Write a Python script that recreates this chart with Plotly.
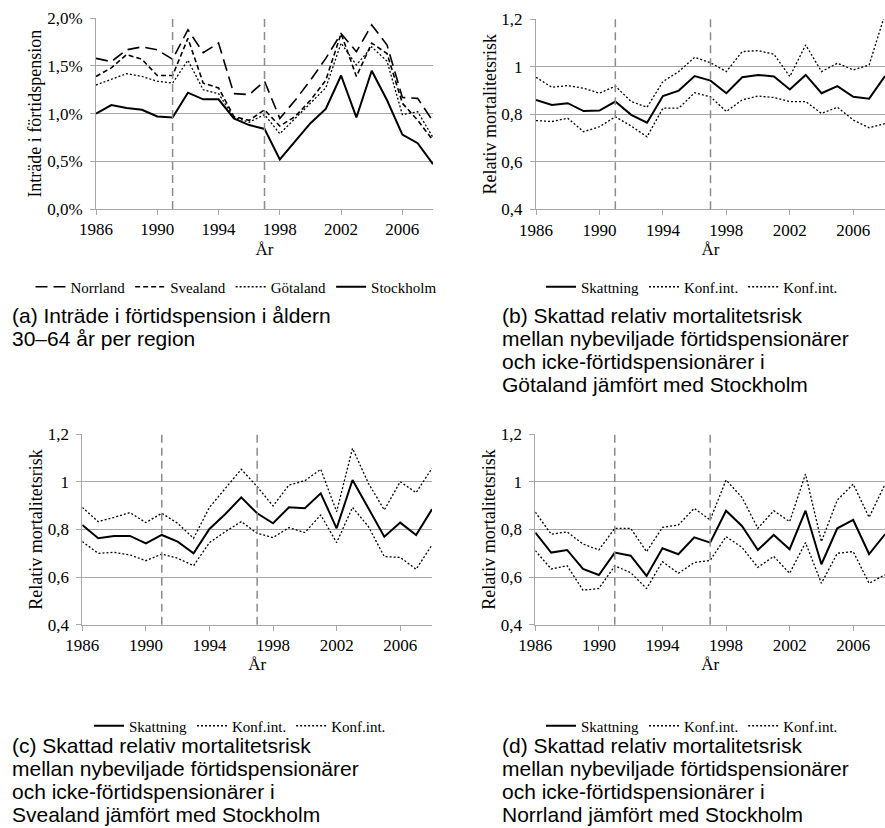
import plotly.graph_objects as go

years = list(range(1986, 2009))
reform_years = [1991, 1997]
x_tickvals = [1986, 1990, 1994, 1998, 2002, 2006]
a_tickvals = [0.0, 0.5, 1.0, 1.5, 2.0]
a_ticktext = ["0,0%", "0,5%", "1,0%", "1,5%", "2,0%"]
rr_tickvals = [0.4, 0.6, 0.8, 1.0, 1.2]

# Panel (a): entry into disability pension, % of population 30-64
norrland = [1.58, 1.545, 1.67, 1.70, 1.67, 1.57, 1.88, 1.64, 1.74, 1.21, 1.20, 1.34,
            0.95, 1.14, 1.35, 1.58, 1.84, 1.65, 1.93, 1.72, 1.17, 1.16, 0.92]
svealand = [1.39, 1.48, 1.62, 1.57, 1.40, 1.40, 1.79, 1.32, 1.27, 0.97, 0.93, 1.04,
            0.87, 0.97, 1.14, 1.35, 1.84, 1.39, 1.74, 1.63, 1.11, 0.93, 0.72]
gotaland = [1.30, 1.36, 1.42, 1.39, 1.34, 1.32, 1.56, 1.25, 1.21, 0.96, 0.91, 0.99,
            0.79, 0.95, 1.11, 1.27, 1.74, 1.51, 1.70, 1.55, 0.99, 1.02, 0.75]
stockholm = [1.00, 1.09, 1.06, 1.04, 0.97, 0.96, 1.22, 1.15, 1.15, 0.95, 0.88, 0.84,
             0.52, 0.71, 0.90, 1.05, 1.40, 0.96, 1.45, 1.14, 0.78, 0.69, 0.47]

# Panel (b): Götaland vs Stockholm
b_est = [0.860, 0.839, 0.846, 0.813, 0.815, 0.853, 0.797, 0.764, 0.876, 0.899, 0.960, 0.941,
         0.888, 0.955, 0.965, 0.958, 0.904, 0.965, 0.888, 0.918, 0.873, 0.865, 0.960]
b_hi = [0.955, 0.913, 0.920, 0.909, 0.888, 0.918, 0.853, 0.829, 0.937, 0.979, 1.039, 1.016,
        0.979, 1.063, 1.067, 1.052, 0.958, 1.091, 0.979, 1.014, 0.986, 1.007, 1.22]
b_lo = [0.773, 0.769, 0.783, 0.726, 0.747, 0.789, 0.750, 0.705, 0.825, 0.825, 0.890, 0.873,
        0.811, 0.860, 0.876, 0.870, 0.853, 0.853, 0.803, 0.829, 0.775, 0.743, 0.760]

# Panel (c): Svealand vs Stockholm
c_est = [0.819, 0.763, 0.773, 0.773, 0.742, 0.777, 0.749, 0.700, 0.802, 0.865, 0.935, 0.868,
         0.826, 0.893, 0.889, 0.952, 0.805, 1.008, 0.889, 0.770, 0.829, 0.777, 0.885]
c_hi = [0.893, 0.833, 0.851, 0.871, 0.829, 0.868, 0.826, 0.763, 0.893, 0.973, 1.053, 0.980,
        0.899, 0.987, 1.005, 1.053, 0.875, 1.141, 0.994, 0.882, 1.001, 0.955, 1.057]
c_lo = [0.749, 0.700, 0.704, 0.693, 0.669, 0.697, 0.679, 0.648, 0.745, 0.791, 0.833, 0.784,
        0.766, 0.808, 0.787, 0.861, 0.745, 0.893, 0.812, 0.686, 0.683, 0.633, 0.735]

# Panel (d): Norrland vs Stockholm
d_est = [0.787, 0.703, 0.714, 0.634, 0.609, 0.703, 0.690, 0.605, 0.721, 0.696, 0.767, 0.745,
         0.879, 0.815, 0.714, 0.777, 0.717, 0.879, 0.654, 0.805, 0.840, 0.697, 0.780]
d_hi = [0.873, 0.780, 0.790, 0.739, 0.714, 0.805, 0.805, 0.707, 0.809, 0.819, 0.889, 0.840,
        1.008, 0.935, 0.805, 0.879, 0.833, 1.033, 0.749, 0.924, 0.991, 0.851, 0.990]
d_lo = [0.711, 0.634, 0.648, 0.545, 0.552, 0.647, 0.619, 0.552, 0.665, 0.616, 0.661, 0.670,
        0.770, 0.725, 0.641, 0.687, 0.616, 0.745, 0.574, 0.700, 0.707, 0.574, 0.610]

captions = [
    ["(a) Inträde i förtidspension i åldern", "30–64 år per region"],
    ["(b) Skattad relativ mortalitetsrisk", "mellan nybeviljade förtidspensionärer",
     "och icke-förtidspensionärer i", "Götaland jämfört med Stockholm"],
    ["(c) Skattad relativ mortalitetsrisk", "mellan nybeviljade förtidspensionärer",
     "och icke-förtidspensionärer i", "Svealand jämfört med Stockholm"],
    ["(d) Skattad relativ mortalitetsrisk", "mellan nybeviljade förtidspensionärer",
     "och icke-förtidspensionärer i", "Norrland jämfört med Stockholm"],
]

W, H = 885, 828
SERIF = "Liberation Serif, Times New Roman, serif"
SANS = "Liberation Sans, Arial, sans-serif"
GRID = "#a6a6a6"

def px_x(a, b):
    return [a / W, min(b / W, 1.0)]

def px_y(top, bottom):
    return [1 - bottom / H, 1 - top / H]

panels = [
    ("x", "y", px_x(96, 433), px_y(18.3, 209)),
    ("x2", "y2", px_x(536, 885), px_y(19, 209.3)),
    ("x3", "y3", px_x(82.3, 432), px_y(434.3, 624.7)),
    ("x4", "y4", px_x(535.3, 885), px_y(434.3, 624.7)),
]

fig = go.Figure()

def add_line(i, y, name, dash, width, legend):
    xa, ya = panels[i][0], panels[i][1]
    fig.add_trace(go.Scatter(
        x=years, y=y, name=name, mode="lines",
        line=dict(color="black", width=width, dash=dash),
        xaxis=xa, yaxis=ya, legend=legend, hoverinfo="skip",
    ))

add_line(0, norrland, "Norrland", "12px,6px", 1.6, "legend")
add_line(0, svealand, "Svealand", "5px,3px", 1.6, "legend")
add_line(0, gotaland, "Götaland", "2px,2px", 1.3, "legend")
add_line(0, stockholm, "Stockholm", "solid", 2, "legend")

for i, (est, hi, lo, lg) in enumerate([(b_est, b_hi, b_lo, "legend2"),
                                       (c_est, c_hi, c_lo, "legend3"),
                                       (d_est, d_hi, d_lo, "legend4")], start=1):
    add_line(i, est, "Skattning", "solid", 2, lg)
    add_line(i, hi, "Konf.int.", "2px,2px", 1.3, lg)
    add_line(i, lo, "Konf.int.", "2px,2px", 1.3, lg)

layout = dict(
    width=W, height=H,
    margin=dict(l=0, r=0, t=0, b=0, autoexpand=False),
    paper_bgcolor="white", plot_bgcolor="white",
    separators=", ",
    font=dict(family=SERIF, size=17, color="black"),
    showlegend=True,
)

axis_common_x = dict(
    range=[1986, 2008], tickvals=x_tickvals, showgrid=False, zeroline=False,
    showline=True, linecolor=GRID, linewidth=1, ticks="outside", ticklen=5,
    tickcolor=GRID, tickfont=dict(family=SERIF, size=17), automargin=False,
    title=dict(text="År", font=dict(family=SERIF, size=17), standoff=4),
)

for i, (xa, ya, xd, yd) in enumerate(panels):
    xk = "xaxis" if xa == "x" else "xaxis" + xa[1:]
    yk = "yaxis" if ya == "y" else "yaxis" + ya[1:]
    layout[xk] = dict(axis_common_x, domain=xd, anchor=ya)
    if i == 0:
        ycfg = dict(range=[0, 2.0], tickvals=a_tickvals, ticktext=a_ticktext,
                    title=dict(text="Inträde i förtidspension", font=dict(family=SERIF, size=18), standoff=0))
    else:
        ycfg = dict(range=[0.4, 1.2], tickvals=rr_tickvals,
                    title=dict(text="Relativ mortalitetsrisk", font=dict(family=SERIF, size=18), standoff=0))
    layout[yk] = dict(ycfg, domain=yd, anchor=xa, showgrid=True, gridcolor=GRID, gridwidth=1,
                      zeroline=False, showline=True, linecolor=GRID, linewidth=1,
                      ticks="outside", ticklen=5, tickcolor=GRID, automargin=False,
                      ticklabelstandoff=4, tickfont=dict(family=SERIF, size=17))

# legends under each panel (centre x, centre y in px)
legend_pos = [("legend", 236, 287), ("legend2", 692, 287),
              ("legend3", 240, 726), ("legend4", 692, 726)]
for key, xc, yc in legend_pos:
    layout[key] = dict(orientation="h", x=xc / W, xanchor="center",
                       y=1 - yc / H, yanchor="middle", bgcolor="rgba(0,0,0,0)",
                       font=dict(family=SERIF, size=15), itemwidth=30)

fig.update_layout(**layout)

# reference (reform) lines
for xa, ya, xd, yd in panels:
    for yr in reform_years:
        fig.add_shape(type="line", xref=xa, yref=ya + " domain", x0=yr, x1=yr, y0=0, y1=1,
                      line=dict(color="#8c8c8c", width=1.5, dash="8px,5px"), layer="above")

# captions, one annotation per line (left x px, first-line centre y px)
cap_pos = [(10, 315), (500, 315), (10, 745), (500, 745)]
LINE_H = 23.1
for (xp, yp), lines in zip(cap_pos, captions):
    for k, txt in enumerate(lines):
        fig.add_annotation(text=txt, xref="paper", yref="paper", x=xp / W,
                           y=1 - (yp + k * LINE_H) / H,
                           xanchor="left", yanchor="middle", align="left", showarrow=False,
                           font=dict(family=SANS, size=21, color="black"))

fig.write_html("out.html", config={"displayModeBar": False},
               post_script="document.body.style.margin='0';document.body.style.overflow='hidden';")
